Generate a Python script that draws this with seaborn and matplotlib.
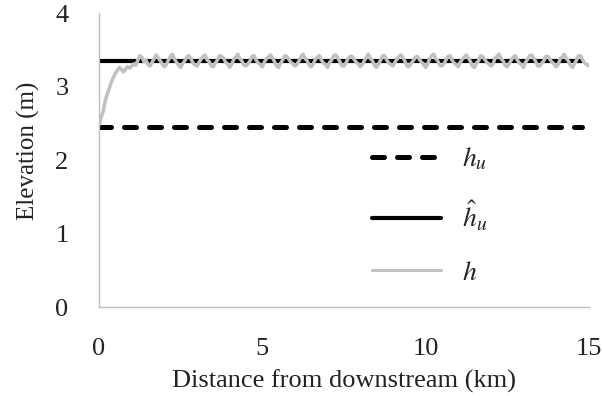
import matplotlib
matplotlib.use("Agg")
import matplotlib.pyplot as plt
import seaborn as sns
import numpy as np
import pandas as pd
from matplotlib.lines import Line2D

# ---- data ----
step_km = 0.0625
h_vals = [
    2.48, 2.58, 2.66, 2.80, 2.90, 2.97, 3.06, 3.12, 3.18, 3.22,
    3.26, 3.23, 3.20, 3.24, 3.27, 3.25, 3.28, 3.31, 3.29, 3.36,
    3.42, 3.40, 3.34, 3.36, 3.30, 3.28, 3.33, 3.38,
    3.43, 3.39, 3.35, 3.31, 3.27, 3.30, 3.36, 3.41,
    3.44, 3.37, 3.33, 3.29, 3.26, 3.31, 3.35, 3.40,
    3.42, 3.38, 3.32, 3.30, 3.28, 3.33, 3.37, 3.41,
    3.43, 3.36, 3.34, 3.28, 3.27, 3.32, 3.36, 3.42,
    3.41, 3.39, 3.33, 3.31, 3.26, 3.30, 3.37, 3.40,
    3.44, 3.38, 3.35, 3.29, 3.28, 3.31, 3.35, 3.41,
    3.42, 3.36, 3.32, 3.30, 3.27, 3.33, 3.38, 3.40,
    3.43, 3.39, 3.34, 3.28, 3.26, 3.32, 3.36, 3.42,
    3.41, 3.37, 3.33, 3.31, 3.28, 3.30, 3.35, 3.41,
    3.44, 3.38, 3.35, 3.29, 3.27, 3.31, 3.37, 3.40,
    3.42, 3.36, 3.32, 3.30, 3.26, 3.33, 3.36, 3.42,
    3.43, 3.39, 3.34, 3.28, 3.28, 3.32, 3.38, 3.41,
    3.41, 3.37, 3.33, 3.31, 3.27, 3.30, 3.35, 3.40,
    3.44, 3.38, 3.35, 3.29, 3.26, 3.31, 3.36, 3.42,
    3.42, 3.36, 3.32, 3.30, 3.28, 3.33, 3.37, 3.41,
    3.43, 3.39, 3.34, 3.28, 3.27, 3.32, 3.35, 3.40,
    3.41, 3.37, 3.33, 3.31, 3.26, 3.30, 3.38, 3.42,
    3.44, 3.38, 3.35, 3.29, 3.28, 3.31, 3.36, 3.41,
    3.42, 3.36, 3.32, 3.30, 3.27, 3.33, 3.37, 3.40,
    3.43, 3.39, 3.34, 3.28, 3.26, 3.32, 3.35, 3.42,
    3.41, 3.37, 3.33, 3.31, 3.28, 3.30, 3.38, 3.41,
    3.44, 3.38, 3.35, 3.29, 3.27, 3.31, 3.36, 3.40,
    3.42, 3.36, 3.32, 3.30, 3.26, 3.33, 3.37, 3.42,
    3.43, 3.39, 3.34, 3.28, 3.28, 3.32, 3.35, 3.41,
    3.41, 3.37, 3.33, 3.31, 3.27, 3.30, 3.38, 3.40,
    3.44, 3.38, 3.35, 3.29, 3.26, 3.31, 3.36, 3.42,
    3.42, 3.36, 3.32, 3.30, 3.28, 3.33, 3.37,
]
h_dist = [i * step_km for i in range(len(h_vals))]
hu_value = 2.45
hu_hat_value = 3.35
line_dist = [0.0, 14.8]

x_ticks = [0, 5, 10, 15]
y_ticks = [0, 1, 2, 3, 4]
x_label = "Distance from downstream (km)"
y_label = "Elevation (m)"
labels = [r"$h_u$", r"$\hat{h}_u$", r"$h$"]

# ---- style ----
sns.set_style("white")
plt.rcParams["font.family"] = ["Liberation Serif", "DejaVu Serif"]
plt.rcParams["mathtext.fontset"] = "stix"

fig = plt.figure(figsize=(6.02, 3.96), dpi=100)
ax = fig.add_axes([0.1645, 0.2247, 0.8135, 0.7423])

df_h = pd.DataFrame({"x": h_dist, "y": h_vals})
df_hu = pd.DataFrame({"x": line_dist, "y": [hu_value] * len(line_dist)})
df_hh = pd.DataFrame({"x": line_dist, "y": [hu_hat_value] * len(line_dist)})

ax.plot(df_hu["x"], df_hu["y"], color="black", lw=3.6,
        dashes=(2.4, 2.6), dash_capstyle="round")
sns.lineplot(data=df_hh, x="x", y="y", ax=ax, color="black", lw=3.0)
sns.lineplot(data=df_h, x="x", y="y", ax=ax, color="#c0c0c0", lw=2.5)

ax.set_xlim(0, 15)
ax.set_ylim(0, 4)
ax.set_xticks(x_ticks)
ax.set_yticks(y_ticks)
ax.tick_params(axis="both", length=0, labelsize=19, colors="#222222")
ax.tick_params(axis="y", pad=22)
ax.tick_params(axis="x", pad=22)
ax.set_xlabel(x_label, fontsize=19, labelpad=7, color="#222222")
ax.set_ylabel(y_label, fontsize=18, color="#222222")
ax.yaxis.set_label_coords(-0.12, 0.53)

for s in ["top", "right"]:
    ax.spines[s].set_visible(False)
for s in ["left", "bottom"]:
    ax.spines[s].set_color("#bfbfbf")
    ax.spines[s].set_linewidth(1.0)

handles = [
    Line2D([], [], color="black", lw=3.6, dashes=(2.4, 2.6), dash_capstyle="round"),
    Line2D([], [], color="black", lw=3.0),
    Line2D([], [], color="#c0c0c0", lw=2.2),
]
ax.legend(handles, labels, loc="center left", bbox_to_anchor=(0.557, 0.31),
          frameon=False, fontsize=20, handlelength=2.5, handletextpad=0.75,
          labelspacing=0.95, borderpad=0, borderaxespad=0)

fig.savefig("out.png", dpi=100)
